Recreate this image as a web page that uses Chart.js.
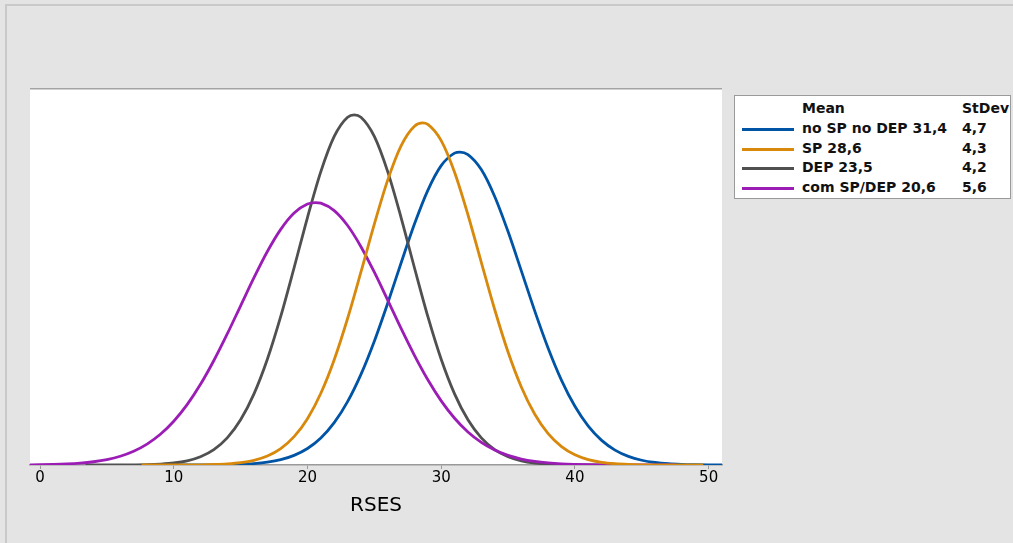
<!DOCTYPE html>
<html>
<head>
<meta charset="utf-8">
<script src="https://cdn.jsdelivr.net/npm/chart.js@4.4.1/dist/chart.umd.min.js"></script>
<style>
    html, body {
        margin: 0;
        padding: 0;
        width: 1013px;
        height: 543px;
        overflow: hidden;
        background-color: #e4e4e4;
        font-family: "DejaVu Sans", sans-serif;
    }

    #frame {
        position: absolute;
        left: 5px;
        top: 4px;
        width: 1100px;
        height: 600px;
        border-left: 2px solid #c9c9c9;
        border-top: 2px solid #c9c9c9;
    }

    #myChart {
        position: absolute;
        left: 0;
        top: 0;
    }

    #legend {
        position: absolute;
        left: 734px;
        top: 95px;
        width: 275px;
        height: 102px;
        background: #ffffff;
        border: 1px solid #9a9a9a;
        font-size: 14px;
        font-weight: bold;
        color: #111;
    }

    .row {
        position: absolute;
        left: 0;
        height: 20px;
        width: 100%;
    }

    .swatch {
        position: absolute;
        left: 7px;
        top: 9px;
        width: 52px;
        height: 3px;
    }

    .name {
        position: absolute;
        left: 67px;
        top: 1px;
        white-space: nowrap;
    }

    .sd {
        position: absolute;
        left: 227px;
        top: 1px;
    }
</style>
</head>
<body>
<div id="frame"></div>
<canvas id="myChart" width="1013" height="543"></canvas>
<div id="legend"></div>

<script>
    // group stats (legend)
    const names = ['no SP no DEP', 'SP', 'DEP', 'com SP/DEP'];
    const means = [31.4, 28.6, 23.5, 20.6];
    const stdevs = [4.7, 4.3, 4.2, 5.6];
    const colors = ['#0054a6', '#d8890c', '#505050', '#9b1db6'];

    const tickValues = [0, 10, 20, 30, 40, 50];

    // curves (RSES, density)
    const blueX = [8.6, 10, 11, 12, 13, 14, 15, 16, 17, 18, 19, 20, 21, 22, 23, 24, 25, 26, 27, 28, 29, 30, 31, 31.4,
        32, 33, 34, 35, 36, 37, 38, 39, 40, 41, 42, 43, 44, 45, 46, 47, 48, 49, 50, 51, 52];
    const blueY = [0, 0, 0.00001, 0.00002, 0.00004, 0.00009, 0.00019, 0.0004, 0.00078, 0.00146, 0.00262, 0.00448,
        0.00734, 0.01149, 0.01719, 0.02459, 0.0336, 0.04388, 0.05479, 0.06536, 0.07452, 0.08122, 0.0846, 0.0849,
        0.08421, 0.08013, 0.07285, 0.06332, 0.0526, 0.04175, 0.03168, 0.02297, 0.01592, 0.01054, 0.00668, 0.00404,
        0.00233, 0.00129, 0.00068, 0.00034, 0.00017, 0.00008, 0.00003, 0.00001, 0];

    const orangeX = [7.6, 9, 10, 11, 12, 13, 14, 15, 16, 17, 18, 19, 20, 21, 22, 23, 24, 25, 26, 27, 28, 28.6,
        29, 30, 31, 32, 33, 34, 35, 36, 37, 38, 39, 40, 41, 42, 43, 44, 45, 46, 47, 48, 49.6];
    const orangeY = [0, 0, 0.00001, 0.00002, 0.00005, 0.00013, 0.00029, 0.00062, 0.00127, 0.00244, 0.00445, 0.00768,
        0.01256, 0.01946, 0.02857, 0.03975, 0.05237, 0.06536, 0.07729, 0.08659, 0.0919, 0.0928,
        0.0924, 0.08801, 0.07942, 0.06789, 0.05497, 0.04218, 0.03065, 0.02111, 0.01377, 0.00851, 0.00498, 0.00276,
        0.00145, 0.00072, 0.00034, 0.00015, 0.00006, 0.00003, 0.00001, 0, 0];

    const grayX = [3.4, 5, 6, 7, 8, 9, 10, 11, 12, 13, 14, 15, 16, 17, 18, 19, 20, 21, 22, 23, 23.5,
        24, 25, 26, 27, 28, 29, 30, 31, 32, 33, 34, 35, 36, 37, 38, 39, 40, 41, 42, 43.6];
    const grayY = [0, 0, 0.00001, 0.00004, 0.0001, 0.00025, 0.00054, 0.00113, 0.00224, 0.00417, 0.00735, 0.01225,
        0.01929, 0.02868, 0.0403, 0.05351, 0.06714, 0.07958, 0.08913, 0.09433, 0.095,
        0.09433, 0.08913, 0.07958, 0.06714, 0.05351, 0.0403, 0.02868, 0.01929, 0.01225, 0.00735, 0.00417, 0.00224,
        0.00113, 0.00054, 0.00025, 0.0001, 0.00004, 0.00001, 0, 0];

    const purpleX = [-1, 0, 1, 2, 3, 4, 5, 6, 7, 8, 9, 10, 11, 12, 13, 14, 15, 16, 17, 18, 19, 20, 20.6,
        21, 22, 23, 24, 25, 26, 27, 28, 29, 30, 31, 32, 33, 34, 35, 36, 37, 38, 39, 40, 41, 42, 43, 44, 45, 47.5];
    const purpleY = [0.00004, 0.00008, 0.00016, 0.00029, 0.00051, 0.00088, 0.00147, 0.00238, 0.00373, 0.00567,
        0.00833, 0.01187, 0.01638, 0.02189, 0.02835, 0.03555, 0.04318, 0.05081, 0.05791, 0.06392, 0.06835, 0.07079,
        0.0712, 0.07102, 0.06901, 0.06496, 0.05922, 0.05229, 0.04473, 0.03705, 0.02974, 0.02312, 0.0174, 0.01269,
        0.00897, 0.00614, 0.00407, 0.00261, 0.00162, 0.00098, 0.00057, 0.00032, 0.00018, 0.00009, 0.00005, 0.00002,
        0.00001, 0, 0];

    function pts(xs, ys) {
        return xs.map(function (x, i) { return {x: x, y: ys[i]}; });
    }

    function fmt(v) {
        return v.toFixed(1).replace('.', ',');
    }

    // legend box
    const legend = document.getElementById('legend');
    let html = '<div class="row" style="top:3px"><span class="name">Mean</span><span class="sd">StDev</span></div>';
    for (let i = 0; i < names.length; i++) {
        const top = 23 + i * 19.5;
        html += '<div class="row" style="top:' + top + 'px">' +
            '<div class="swatch" style="background:' + colors[i] + '"></div>' +
            '<span class="name">' + names[i] + ' ' + fmt(means[i]) + '</span>' +
            '<span class="sd">' + fmt(stdevs[i]) + '</span></div>';
    }
    legend.innerHTML = html;

    // white plot area with grey top edge
    const plotBackground = {
        id: 'plotBackground',
        beforeDraw: function (chart) {
            const a = chart.chartArea;
            const ctx = chart.ctx;
            ctx.save();
            ctx.fillStyle = '#ffffff';
            ctx.fillRect(a.left, a.top, a.right - a.left, a.bottom - a.top);
            ctx.fillStyle = '#a3a3a3';
            ctx.fillRect(a.left, a.top - 1, a.right - a.left, 1.5);
            ctx.restore();
        }
    };

    const series = [
        {data: pts(orangeX, orangeY), color: colors[1], order: 1},
        {data: pts(purpleX, purpleY), color: colors[3], order: 2},
        {data: pts(grayX, grayY), color: colors[2], order: 3},
        {data: pts(blueX, blueY), color: colors[0], order: 4}
    ];

    const config = {
        type: 'line',
        data: {
            datasets: series.map(function (s) {
                return {
                    data: s.data,
                    borderColor: s.color,
                    borderWidth: 2.8,
                    pointRadius: 0,
                    fill: false,
                    cubicInterpolationMode: 'monotone',
                    order: s.order
                };
            })
        },
        options: {
            responsive: false,
            animation: false,
            layout: {
                padding: {left: 30, right: 291, top: 89, bottom: 0}
            },
            plugins: {
                legend: {display: false},
                tooltip: {enabled: false}
            },
            scales: {
                x: {
                    type: 'linear',
                    min: -0.75,
                    max: 51,
                    afterBuildTicks: function (scale) {
                        scale.ticks = tickValues.map(function (v) { return {value: v}; });
                    },
                    afterFit: function (scale) {
                        scale.height = 78;
                    },
                    grid: {
                        drawOnChartArea: false,
                        drawTicks: true,
                        tickLength: 4,
                        color: '#9a9a9a'
                    },
                    border: {display: true, color: '#9a9a9a', width: 1.5},
                    ticks: {
                        padding: 0,
                        color: '#000',
                        font: {family: 'DejaVu Sans', size: 15}
                    },
                    title: {
                        display: true,
                        text: 'RSES',
                        color: '#000',
                        font: {family: 'DejaVu Sans', size: 20},
                        padding: {top: 0, bottom: 25}
                    }
                },
                y: {
                    display: false,
                    min: 0,
                    max: 0.102
                }
            }
        },
        plugins: [plotBackground]
    };

    const myChart = new Chart(document.getElementById('myChart'), config);
</script>
</body>
</html>
